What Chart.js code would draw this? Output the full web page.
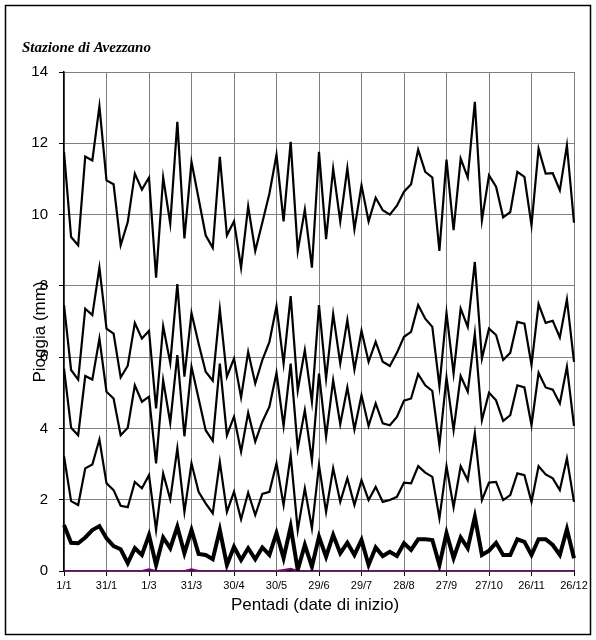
<!DOCTYPE html>
<html>
<head>
<meta charset="utf-8">
<script src="https://cdn.jsdelivr.net/npm/chart.js@4.4.1/dist/chart.umd.min.js"></script>
<style>
  html, body { margin: 0; padding: 0; background: #fff; }
  #wrap { width: 596px; height: 640px; position: relative; }
</style>
</head>
<body>
<div id="wrap"><canvas id="c" width="596" height="640"></canvas></div>
<script>
// Pentadi: data di inizio (anno bisestile, 73 pentadi)
const pentadi = [
  '1/1','6/1','11/1','16/1','21/1','26/1','31/1',
  '5/2','10/2','15/2','20/2','25/2',
  '1/3','6/3','11/3','16/3','21/3','26/3','31/3',
  '5/4','10/4','15/4','20/4','25/4','30/4',
  '5/5','10/5','15/5','20/5','25/5','30/5',
  '4/6','9/6','14/6','19/6','24/6','29/6',
  '4/7','9/7','14/7','19/7','24/7','29/7',
  '3/8','8/8','13/8','18/8','23/8','28/8',
  '2/9','7/9','12/9','17/9','22/9','27/9',
  '2/10','7/10','12/10','17/10','22/10','27/10',
  '1/11','6/11','11/11','16/11','21/11','26/11',
  '1/12','6/12','11/12','16/12','21/12','26/12'
];

const serieA = [
  11.76, 9.37, 9.14, 11.63, 11.52, 13.04, 10.96, 10.85, 9.14, 9.79, 11.15, 10.70,
  11.04, 8.23, 11.04, 9.75, 12.60, 9.33, 11.48, 10.45, 9.42, 9.07, 11.62, 9.42,
  9.81, 8.51, 10.23, 8.98, 9.78, 10.59, 11.68, 9.81, 12.04, 8.98, 10.14, 8.51,
  11.76, 9.31, 11.29, 9.81, 11.30, 9.59, 10.82, 9.81, 10.47, 10.12, 10.00, 10.25,
  10.64, 10.85, 11.82, 11.20, 11.04, 8.98, 11.54, 9.56, 11.57, 11.04, 13.16, 9.84,
  11.10, 10.78, 9.92, 10.07, 11.20, 11.06, 9.70, 11.85, 11.15, 11.16, 10.68, 11.94, 9.77
];

const serieB = [
  7.46, 5.64, 5.37, 7.36, 7.18, 8.51, 6.80, 6.66, 5.43, 5.76, 6.96, 6.52,
  6.74, 4.56, 6.87, 5.84, 8.05, 5.45, 7.24, 6.38, 5.59, 5.34, 7.34, 5.45,
  5.96, 4.87, 6.15, 5.26, 5.92, 6.43, 7.43, 5.82, 7.71, 5.07, 6.20, 4.75,
  7.46, 5.40, 7.21, 5.82, 7.04, 5.65, 6.74, 5.87, 6.43, 5.87, 5.75, 6.12,
  6.57, 6.71, 7.46, 7.08, 6.85, 5.19, 7.24, 5.54, 7.36, 6.85, 8.67, 5.96,
  6.80, 6.62, 5.92, 6.12, 6.99, 6.94, 5.78, 7.49, 6.96, 7.02, 6.55, 7.62, 5.87
];

const serieC = [
  5.68, 4.02, 3.81, 5.47, 5.37, 6.52, 5.03, 4.84, 3.81, 4.02, 5.21, 4.75,
  4.89, 3.02, 5.35, 4.16, 6.06, 3.78, 5.73, 4.84, 3.95, 3.65, 5.82, 3.81,
  4.33, 3.35, 4.44, 3.63, 4.19, 4.61, 5.56, 4.07, 5.82, 3.44, 4.51, 3.10,
  5.54, 3.77, 5.35, 4.12, 5.15, 3.97, 4.93, 4.07, 4.70, 4.14, 4.09, 4.32,
  4.78, 4.84, 5.52, 5.21, 5.05, 3.53, 5.43, 3.95, 5.47, 5.03, 6.66, 4.23,
  5.00, 4.79, 4.21, 4.37, 5.21, 5.15, 4.09, 5.56, 5.15, 5.09, 4.70, 5.73, 4.07
];

const serieD = [
  3.22, 1.96, 1.85, 2.88, 2.99, 3.69, 2.46, 2.27, 1.83, 1.79, 2.50, 2.32,
  2.69, 1.15, 2.74, 2.01, 3.44, 1.66, 3.02, 2.22, 1.90, 1.62, 3.06, 1.66,
  2.22, 1.45, 2.20, 1.57, 2.16, 2.22, 3.02, 1.85, 3.25, 1.15, 2.32, 1.20,
  2.97, 1.66, 2.88, 1.94, 2.60, 1.85, 2.55, 1.99, 2.36, 1.94, 1.99, 2.08,
  2.48, 2.46, 2.94, 2.76, 2.64, 1.48, 2.94, 1.79, 2.94, 2.55, 3.86, 1.99,
  2.48, 2.50, 1.99, 2.13, 2.74, 2.69, 1.94, 2.94, 2.71, 2.60, 2.27, 3.16, 1.94
];

// media (linea spessa)
const serieMedia = [
  1.29, 0.79, 0.78, 0.94, 1.15, 1.26, 0.92, 0.70, 0.61, 0.22, 0.64, 0.45,
  1.01, 0.17, 0.94, 0.64, 1.24, 0.50, 1.15, 0.48, 0.45, 0.33, 1.15, 0.17,
  0.68, 0.31, 0.64, 0.33, 0.66, 0.45, 1.06, 0.36, 1.24, 0.03, 0.73, 0.12,
  0.96, 0.40, 1.01, 0.50, 0.79, 0.45, 0.87, 0.17, 0.66, 0.42, 0.54, 0.42,
  0.78, 0.59, 0.89, 0.89, 0.87, 0.17, 1.06, 0.36, 0.94, 0.64, 1.52, 0.45,
  0.57, 0.79, 0.45, 0.45, 0.89, 0.82, 0.45, 0.89, 0.89, 0.73, 0.45, 1.17, 0.36
];

const serieMin = [
  0, 0, 0, 0, 0, 0, 0, 0, 0, 0, 0, 0,
  0.05, 0, 0, 0, 0, 0, 0.05, 0, 0, 0, 0, 0,
  0, 0, 0, 0, 0, 0, 0, 0.03, 0.06, 0, 0, 0,
  0, 0, 0, 0, 0, 0, 0, 0, 0, 0, 0, 0,
  0, 0, 0, 0, 0, 0, 0, 0, 0, 0, 0, 0,
  0, 0, 0, 0, 0, 0, 0, 0, 0, 0, 0, 0, 0
];

const yTicks = [0, 2, 4, 6, 8, 10, 12, 14];

function linea(data, width, color) {
  return {
    data: data,
    borderColor: color || '#000',
    borderWidth: width,
    pointRadius: 0,
    tension: 0,
    fill: false
  };
}

// testi e cornice
const decorazioni = {
  id: 'decorazioni',
  beforeDraw(chart) {
    const ctx = chart.ctx;
    ctx.save();
    ctx.fillStyle = '#fff';
    ctx.fillRect(0, 0, chart.width, chart.height);
    ctx.restore();
  },
  afterDraw(chart) {
    const ctx = chart.ctx;
    const area = chart.chartArea;
    ctx.save();
    ctx.strokeStyle = '#000';
    ctx.lineWidth = 1.5;
    ctx.strokeRect(5.5, 5.5, 585, 629);

    ctx.fillStyle = '#000';
    ctx.font = 'italic bold 15px "Liberation Serif", "Times New Roman", serif';
    ctx.textAlign = 'left';
    ctx.textBaseline = 'alphabetic';
    ctx.fillText('Stazione di Avezzano', 22, 52);

    ctx.font = '17px "Liberation Sans", Arial, sans-serif';
    ctx.textAlign = 'center';
    ctx.textBaseline = 'middle';
    ctx.fillText('Pentadi (date di inizio)', 315, 605);

    ctx.translate(40, 332);
    ctx.rotate(-Math.PI / 2);
    ctx.fillText('Pioggia (mm)', 0, 0);
    ctx.restore();
  }
};

new Chart(document.getElementById('c'), {
  type: 'line',
  data: {
    labels: pentadi,
    datasets: [
      linea(serieA, 2.2),
      linea(serieB, 2.2),
      linea(serieC, 2.2),
      linea(serieD, 2.2),
      linea(serieMedia, 4),
      linea(serieMin, 2, '#800080')
    ]
  },
  options: {
    responsive: false,
    animation: false,
    layout: { padding: { top: 72, right: 22, left: 0, bottom: 0 } },
    plugins: {
      legend: { display: false },
      tooltip: { enabled: false }
    },
    scales: {
      x: {
        offset: false,
        border: { color: '#000', width: 1.5 },
        grid: {
          color: (c) => (c.index % 6 === 0 ? '#808080' : 'rgba(0,0,0,0)'),
          tickColor: (c) => (c.index % 6 === 0 ? '#000' : 'rgba(0,0,0,0)'),
          tickLength: 5,
          lineWidth: 1
        },
        ticks: {
          autoSkip: false,
          maxRotation: 0,
          minRotation: 0,
          padding: 3,
          color: '#000',
          font: { family: '"Liberation Sans", Arial, sans-serif', size: 11 },
          callback: function (val, i) { return i % 6 === 0 ? pentadi[i] : ''; }
        },
        afterFit: (s) => { s.height = 69; }
      },
      y: {
        min: 0,
        max: 14,
        border: { color: '#000', width: 1.5 },
        grid: { color: '#808080', tickColor: '#000', tickLength: 5, lineWidth: 1 },
        afterBuildTicks: (s) => { s.ticks = yTicks.map(v => ({ value: v })); },
        ticks: {
          padding: 11,
          color: '#000',
          font: { family: '"Liberation Sans", Arial, sans-serif', size: 15 }
        },
        afterFit: (s) => { s.width = 64; }
      }
    }
  },
  plugins: [decorazioni]
});
</script>
</body>
</html>
